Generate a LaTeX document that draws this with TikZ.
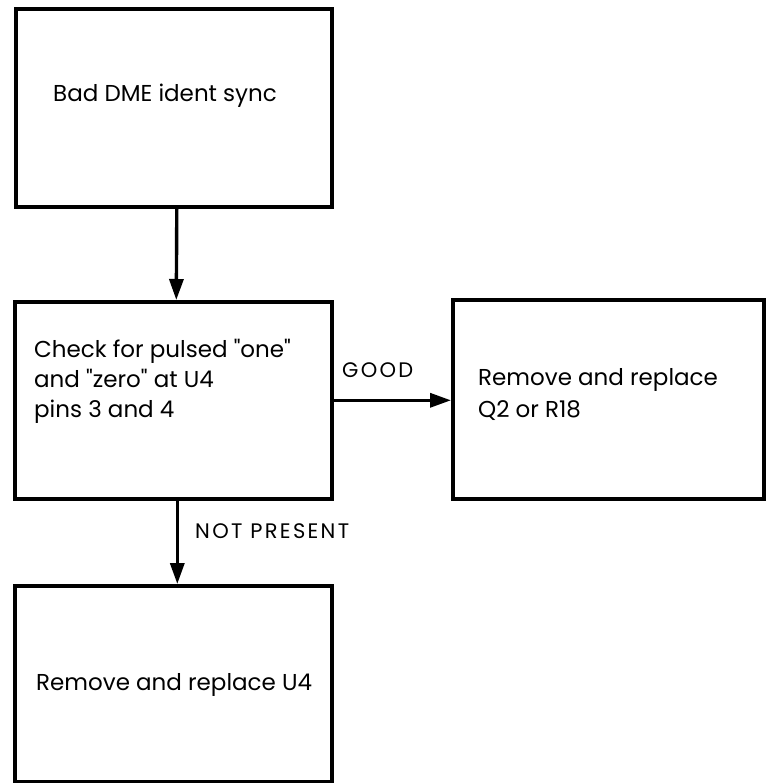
\documentclass[tikz,border=0pt]{standalone}
\usepackage{fontspec}
\setmainfont{Poppins}[Ligatures=TeXOff]
\usetikzlibrary{arrows.meta}
\begin{document}
\begin{tikzpicture}[x=1pt,y=-1pt,
  box/.style={draw, line width=3.6pt, inner sep=0pt, anchor=north west},
  txt/.style={anchor=base west, inner sep=0pt,
    font=\fontsize{23}{30}\selectfont},
  tag/.style={anchor=base west, inner sep=0pt,
    font=\fontsize{21}{24}\selectfont\addfontfeatures{LetterSpace=11}},
  flow/.style={line width=3.4pt, -{Triangle[length=21pt,width=14pt]}}]
\useasboundingbox (0,0) rectangle (765,783);

% boxes
\node[box, minimum width=316pt, minimum height=198pt] (start) at (14,7) {};
\node[box, minimum width=317pt, minimum height=197pt] (check) at (13,300) {};
\node[box, minimum width=311pt, minimum height=199pt] (good) at (451,298) {};
\node[box, minimum width=317pt, minimum height=196pt] (bad) at (13,584) {};

% box texts, one node per line
\node[txt] (tstart) at (53,102) {Bad DME ident sync};
\node[txt] (tcheckA) at (34,357) {Check for pulsed "one"};
\node[txt] (tcheckB) at (34,387) {and "zero" at U4};
\node[txt] (tcheckC) at (34,417) {pins 3 and 4};
\node[txt] (tgoodA) at (478,385) {Remove and replace};
\node[txt] (tgoodB) at (478,417) {Q2 or R18};
\node[txt] (tbad) at (36,690) {Remove and replace U4};

% connectors
\draw[flow] ([xshift=3pt]start.south) -- ([xshift=3pt]check.north);
\draw[flow] (check.east) -- (check.east -| good.west);
\draw[flow] ([xshift=4pt]check.south) -- ([xshift=4pt]bad.north);

% connector labels
\node[tag] (lgood) at (342,377) {GOOD};
\node[tag] (lnot) at (195,538) {NOT PRESENT};
\end{tikzpicture}
\end{document}
